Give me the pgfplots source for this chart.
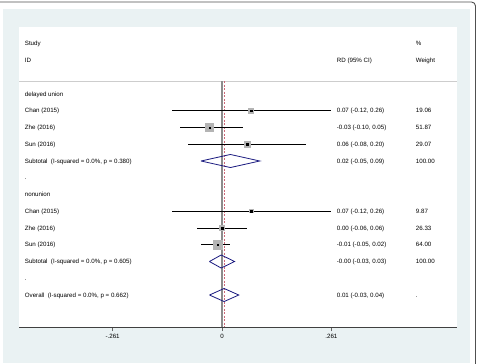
\documentclass[border=0pt]{standalone}
\usepackage{pgfplots}
\usepackage{pgfplotstable}
\pgfplotsset{compat=1.18}
\usepackage{fontspec}
\setmainfont{Liberation Sans}

\definecolor{bluishgray}{RGB}{234,242,243}
\definecolor{framegray}{RGB}{80,80,80}
\definecolor{sqgray}{RGB}{180,180,180}
\definecolor{zerogray}{RGB}{140,140,140}
\definecolor{hdrgray}{RGB}{205,205,205}
\definecolor{diamondblue}{RGB}{26,26,128}
\definecolor{refred}{RGB}{205,105,120}

% study-level estimates: row (negative = further down), estimate, CI, weight (%)
\pgfplotstableread{
y   est    lo     hi    w
-1   0.07  -0.12  0.26  19.06
-2  -0.03  -0.10  0.05  51.87
-3   0.06  -0.08  0.20  29.07
-7   0.07  -0.12  0.26   9.87
-8   0.00  -0.06  0.06  26.33
-9  -0.01  -0.05  0.02  64.00
}\studies

\newcommand{\tf}{\fontsize{6.2}{7.4}\selectfont}

\begin{document}
\begin{tikzpicture}[x=1bp,y=1bp]
  % page and graph region
  \fill[white, use as bounding box] (0,0) rectangle (478,363);
  \fill[bluishgray] (3,0) rectangle (470,354);
  \draw[framegray, line width=0.9bp, rounded corners=4bp] (0,361) -- (475.5,361) -- (475.5,-2);

  \begin{axis}[
    at={(19bp,36bp)}, anchor=south west,
    scale only axis, width=438bp, height=300bp,
    xmin=-0.4843, xmax=0.5606,
    ymin=-13.91, ymax=4,
    axis x line*=bottom,
    axis y line=none,
    axis background/.style={fill=white},
    axis line style={draw=black!75, line width=0.8bp},
    xtick={-0.261,0,0.261},
    xticklabels={-.261,0,.261},
    tick align=outside,
    major tick length=4bp,
    tick style={draw=black!60, line width=0.6bp},
    xticklabel style={font=\tf, text=black},
    clip=false,
  ]
    % header rule, no-effect line and overall estimate
    \addplot[hdrgray, line width=0.7bp] coordinates {(-0.4843,0.776) (0.5606,0.776)};
    \addplot[zerogray, line width=1.5bp] coordinates {(0,0.776) (0,-13.91)};
    \addplot[refred, line width=0.6bp, dash pattern=on 2bp off 1.5bp] coordinates {(0.005,0.776) (0.005,-13.91)};

    % weight boxes, side proportional to sqrt(weight)
    \addplot[sqgray, scatter, only marks, mark=square*,
      mark options={draw=sqgray, fill=sqgray, line width=0pt},
      visualization depends on={0.55*sqrt(\thisrow{w}) \as \msz},
      scatter/@pre marker code/.code={\scope[mark size=\msz, draw=sqgray, fill=sqgray]},
      scatter/@post marker code/.code={\endscope}]
      table[x=est, y=y] {\studies};

    % confidence intervals
    \addplot[draw=none, mark=none,
      error bars/.cd, x dir=both, x explicit, error mark=none,
      error bar style={draw=black, solid, line width=0.8bp}]
      table[x=est, y=y,
        x error plus expr=\thisrow{hi}-\thisrow{est},
        x error minus expr=\thisrow{est}-\thisrow{lo}] {\studies};

    % point estimates
    \addplot[only marks, mark=square*, mark size=0.7bp, black, mark options={draw=none, fill=black}] table[x=est, y=y] {\studies};

    % pooled estimates
    \addplot[diamondblue, line width=0.8bp] coordinates {(-0.05,-4) (0.02,-3.61) (0.09,-4) (0.02,-4.39) (-0.05,-4)};
    \addplot[diamondblue, line width=0.8bp] coordinates {(-0.03,-10) (-0.002,-9.61) (0.03,-10) (-0.002,-10.39) (-0.03,-10)};
    \addplot[diamondblue, line width=0.8bp] coordinates {(-0.03,-12) (0.005,-11.61) (0.04,-12) (0.005,-12.39) (-0.03,-12)};

    % text columns
    \tikzset{lab/.style={anchor=base west, inner sep=0pt, font=\tf, text=black, yshift=-2.2bp}}
    \node[lab] at (axis cs:-0.4707,3) {Study};
    \node[lab] at (axis cs:-0.4707,2) {ID};
    \node[lab] at (axis cs:0.2736,2) {RD (95\% CI)};
    \node[lab] at (axis cs:0.4621,3) {\%};
    \node[lab] at (axis cs:0.4621,2) {Weight};

    \node[lab] at (axis cs:-0.4707,0) {delayed union};
    \node[lab] at (axis cs:-0.4707,-1) {Chan (2015)};
    \node[lab] at (axis cs:-0.4707,-2) {Zhe (2016)};
    \node[lab] at (axis cs:-0.4707,-3) {Sun (2016)};
    \node[lab] at (axis cs:-0.4707,-4) {Subtotal\ \ (I-squared = 0.0\%, p = 0.380)};
    \node[lab] at (axis cs:-0.4707,-5) {.};
    \node[lab] at (axis cs:-0.4707,-6) {nonunion};
    \node[lab] at (axis cs:-0.4707,-7) {Chan (2015)};
    \node[lab] at (axis cs:-0.4707,-8) {Zhe (2016)};
    \node[lab] at (axis cs:-0.4707,-9) {Sun (2016)};
    \node[lab] at (axis cs:-0.4707,-10) {Subtotal\ \ (I-squared = 0.0\%, p = 0.605)};
    \node[lab] at (axis cs:-0.4707,-11) {.};
    \node[lab] at (axis cs:-0.4707,-12) {Overall\ \ (I-squared = 0.0\%, p = 0.662)};

    \node[lab] at (axis cs:0.2736,-1) {0.07 (-0.12, 0.26)};
    \node[lab] at (axis cs:0.2736,-2) {-0.03 (-0.10, 0.05)};
    \node[lab] at (axis cs:0.2736,-3) {0.06 (-0.08, 0.20)};
    \node[lab] at (axis cs:0.2736,-4) {0.02 (-0.05, 0.09)};
    \node[lab] at (axis cs:0.2736,-7) {0.07 (-0.12, 0.26)};
    \node[lab] at (axis cs:0.2736,-8) {0.00 (-0.06, 0.06)};
    \node[lab] at (axis cs:0.2736,-9) {-0.01 (-0.05, 0.02)};
    \node[lab] at (axis cs:0.2736,-10) {-0.00 (-0.03, 0.03)};
    \node[lab] at (axis cs:0.2736,-12) {0.01 (-0.03, 0.04)};

    \node[lab] at (axis cs:0.4621,-1) {19.06};
    \node[lab] at (axis cs:0.4621,-2) {51.87};
    \node[lab] at (axis cs:0.4621,-3) {29.07};
    \node[lab] at (axis cs:0.4621,-4) {100.00};
    \node[lab] at (axis cs:0.4621,-7) {9.87};
    \node[lab] at (axis cs:0.4621,-8) {26.33};
    \node[lab] at (axis cs:0.4621,-9) {64.00};
    \node[lab] at (axis cs:0.4621,-10) {100.00};
    \node[lab] at (axis cs:0.4621,-12) {.};
  \end{axis}
\end{tikzpicture}
\end{document}
